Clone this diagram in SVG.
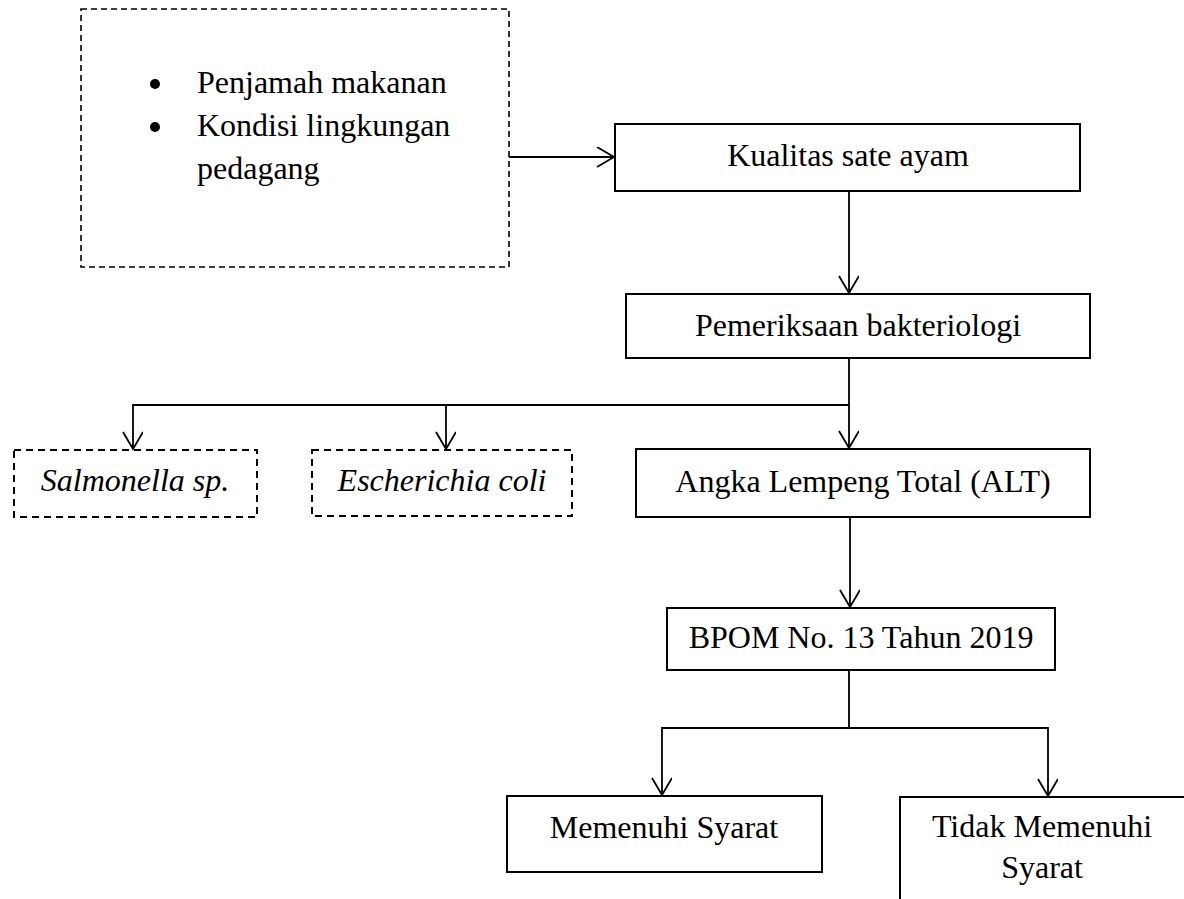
<svg xmlns="http://www.w3.org/2000/svg" width="1184" height="899" viewBox="0 0 1184 899">
<style>
text{font-family:"Liberation Serif","Times New Roman",serif;font-size:32px;fill:#000}
.c{text-anchor:middle}
.i{font-style:italic}
.box{fill:#fff;stroke:#000;stroke-width:2}
.dash{fill:#fff;stroke:#000;stroke-width:2;stroke-dasharray:7 5}
.dash1{fill:#fff;stroke:#000;stroke-width:1.6;stroke-dasharray:6 4}
.ln{fill:none;stroke:#000;stroke-width:1.8}
</style>
<defs>
<marker id="ah" markerWidth="24" markerHeight="24" refX="18" refY="10" orient="auto" markerUnits="userSpaceOnUse">
<path d="M1,0 L18,10 L1,20" fill="none" stroke="#000" stroke-width="1.8"/>
</marker>
</defs>
<g id="factors">
<rect class="dash1" x="81" y="9" width="428" height="258"/>
<circle cx="155" cy="84" r="5"/>
<circle cx="155" cy="127" r="5"/>
<text x="197" y="93">Penjamah makanan</text>
<text x="197" y="136">Kondisi lingkungan</text>
<text x="197" y="179">pedagang</text>
</g>
<g id="kualitas">
<rect class="box" x="615" y="124" width="465" height="67"/>
<text class="c" x="848" y="166">Kualitas sate ayam</text>
</g>
<g id="pemeriksaan">
<rect class="box" x="626" y="294" width="464" height="64"/>
<text class="c" x="858" y="336">Pemeriksaan bakteriologi</text>
</g>
<g id="salmonella">
<rect class="dash" x="14" y="450" width="243" height="67"/>
<text class="c i" x="135" y="491">Salmonella sp.</text>
</g>
<g id="ecoli">
<rect class="dash" x="312" y="450" width="260" height="66"/>
<text class="c i" x="442" y="491">Escherichia coli</text>
</g>
<g id="alt">
<rect class="box" x="636" y="449" width="454" height="68"/>
<text class="c" x="863" y="492">Angka Lempeng Total (ALT)</text>
</g>
<g id="bpom">
<rect class="box" x="667" y="608" width="388" height="62"/>
<text class="c" x="861" y="648">BPOM No. 13 Tahun 2019</text>
</g>
<g id="memenuhi">
<rect class="box" x="507" y="796" width="315" height="76"/>
<text class="c" x="664" y="838">Memenuhi Syarat</text>
</g>
<g id="tidak">
<rect class="box" x="900" y="797" width="300" height="150"/>
<text class="c" x="1042" y="837">Tidak Memenuhi</text>
<text class="c" x="1042" y="878">Syarat</text>
</g>
<g id="connectors">
<path class="ln" d="M509,157 H614" marker-end="url(#ah)"/>
<path class="ln" d="M849,191 V293" marker-end="url(#ah)"/>
<path class="ln" d="M849,358 V448" marker-end="url(#ah)"/>
<path class="ln" d="M849,405 H133 V449" marker-end="url(#ah)"/>
<path class="ln" d="M446,405 V449" marker-end="url(#ah)"/>
<path class="ln" d="M850,517 V607" marker-end="url(#ah)"/>
<path class="ln" d="M849,670 V728 H662 V795" marker-end="url(#ah)"/>
<path class="ln" d="M849,728 H1048 V796" marker-end="url(#ah)"/>
</g>
</svg>
